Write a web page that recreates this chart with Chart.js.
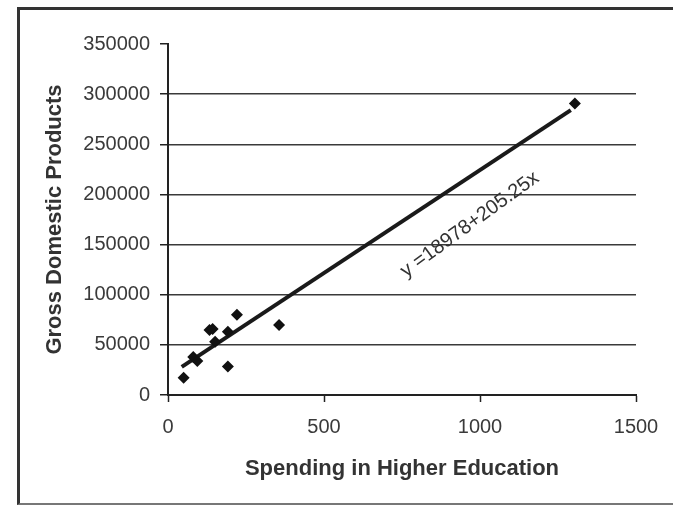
<!DOCTYPE html>
<html>
<head>
<meta charset="utf-8">
<script src="https://cdn.jsdelivr.net/npm/chart.js@4.4.1/dist/chart.umd.min.js"></script>
<style>
  html, body { margin: 0; padding: 0; background: #fff; }
  #wrap { position: relative; width: 673px; height: 506px; overflow: hidden; }
  #frame { position: absolute; left: 17px; top: 7px; width: 700px; height: 493px;
           border-left: 3px solid #333; border-top: 3px solid #333; border-bottom: 2px solid #777; }
  canvas { position: absolute; left: 0; top: 0; }
</style>
</head>
<body>
<div id="wrap">
  <div id="frame"></div>
  <canvas id="c" width="673" height="506"></canvas>
</div>
<script>
// Data
const spending = [50, 81, 94, 133, 143, 151, 192, 221, 192, 356, 1304];
const gdp      = [17300, 38000, 34000, 64700, 65700, 53000, 63000, 80000, 28300, 69700, 290700];
// Trend line end points (as drawn in the picture)
const trendX = [44, 1291];
const trendY = [28000, 284000];
const equationText = 'y =18978+205.25x';
const equationAt = { x: 967, y: 170000 };
const xTicks = [0, 500, 1000, 1500];
const yTicks = [0, 50000, 100000, 150000, 200000, 250000, 300000, 350000];
const xTitle = 'Spending in Higher Education';
const yTitle = 'Gross Domestic Products';

const tickFont = { family: "'Liberation Sans', Arial, sans-serif", size: 20 };
const titleFont = { family: "'Liberation Sans', Arial, sans-serif", size: 22, weight: 'bold' };

const equationPlugin = {
  id: 'equation',
  afterDatasetsDraw(chart) {
    const { ctx, scales } = chart;
    const px = scales.x.getPixelForValue(equationAt.x);
    const py = scales.y.getPixelForValue(equationAt.y);
    ctx.save();
    ctx.translate(px, py);
    ctx.rotate(-36 * Math.PI / 180);
    ctx.font = "20px 'Liberation Sans', Arial, sans-serif";
    ctx.fillStyle = '#333';
    ctx.textAlign = 'center';
    ctx.textBaseline = 'middle';
    ctx.fillText(equationText, 0, 0);
    ctx.restore();
  }
};

new Chart(document.getElementById('c'), {
  type: 'scatter',
  data: {
    datasets: [
      {
        type: 'line',
        data: trendX.map((x, i) => ({ x, y: trendY[i] })),
        borderColor: '#1a1a1a',
        borderWidth: 4,
        pointRadius: 0,
        fill: false,
        order: 2
      },
      {
        data: spending.map((x, i) => ({ x, y: gdp[i] })),
        pointStyle: 'rectRot',
        pointRadius: 6,
        backgroundColor: '#111',
        borderColor: '#111',
        borderWidth: 0,
        order: 1
      }
    ]
  },
  options: {
    responsive: false,
    animation: false,
    layout: { padding: { left: 0, right: 37, top: 44, bottom: 0 } },
    plugins: { legend: { display: false }, tooltip: { enabled: false } },
    scales: {
      x: {
        type: 'linear',
        min: 0, max: 1500,
        afterBuildTicks: s => { s.ticks = xTicks.map(v => ({ value: v })); },
        afterFit: s => { s.height = 111; },
        ticks: { font: tickFont, color: '#3a3a3a', padding: 13, maxRotation: 0, callback: v => String(v) },
        grid: { drawOnChartArea: false, drawTicks: true, tickLength: 7, tickColor: '#222', tickWidth: 1.5 },
        border: { color: '#222', width: 2 },
        title: { display: true, text: xTitle, font: titleFont, color: '#333', padding: { top: 0, bottom: 24 } }
      },
      y: {
        type: 'linear',
        min: 0, max: 350000,
        afterBuildTicks: s => { s.ticks = yTicks.map(v => ({ value: v })); },
        afterFit: s => { s.width = 168; },
        ticks: { font: tickFont, color: '#3a3a3a', padding: 10, callback: v => String(v) },
        grid: {
          color: c => (c.tick && c.tick.value === 350000) ? 'rgba(0,0,0,0)' : '#3a3a3a',
          lineWidth: 1.5,
          drawTicks: true, tickLength: 8, tickColor: '#222', tickWidth: 1.5
        },
        border: { color: '#222', width: 2 },
        title: { display: true, text: yTitle, font: titleFont, color: '#333', padding: { top: 42, bottom: 0 } }
      }
    }
  },
  plugins: [equationPlugin]
});
</script>
</body>
</html>
